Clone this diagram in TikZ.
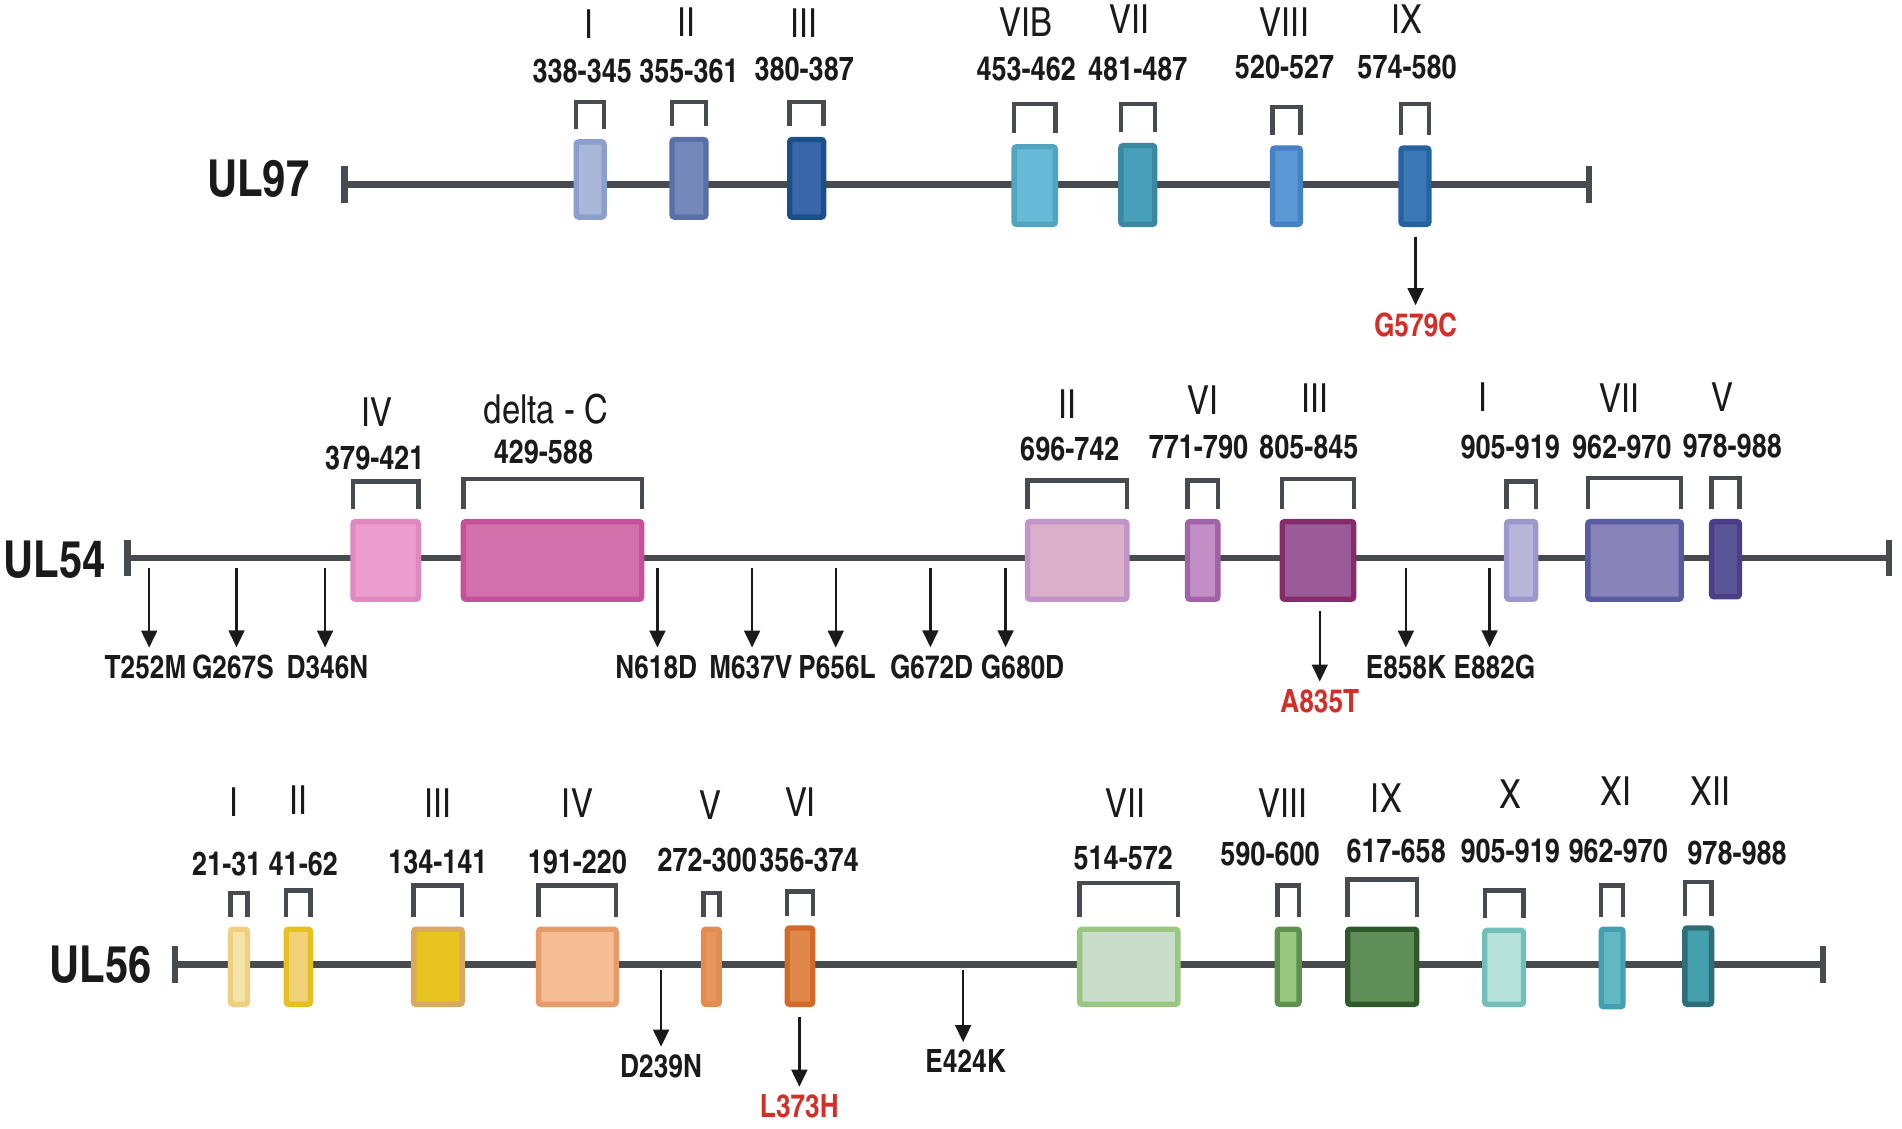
\documentclass[tikz,border=0pt]{standalone}
\usepackage{fontspec}
\setmainfont{texgyreheroscn}[Extension=.otf,UprightFont=*-regular,BoldFont=*-bold]
\usetikzlibrary{arrows.meta}
\definecolor{geneGray}{RGB}{71,74,78}
\definecolor{mutRed}{RGB}{211,47,42}
\definecolor{txtDark}{RGB}{26,26,26}
% UL97 motifs
\definecolor{sa}{HTML}{A9B8D8}\definecolor{saD}{HTML}{8AA0CC}
\definecolor{sb}{HTML}{7489BA}\definecolor{sbD}{HTML}{5870A6}
\definecolor{sc}{HTML}{3A66AC}\definecolor{scD}{HTML}{1A5088}
\definecolor{sd}{HTML}{67B9D8}\definecolor{sdD}{HTML}{52A4C0}
\definecolor{se}{HTML}{489FBA}\definecolor{seD}{HTML}{3A88A2}
\definecolor{sf}{HTML}{5B98D6}\definecolor{sfD}{HTML}{4681C4}
\definecolor{sg}{HTML}{3B78B8}\definecolor{sgD}{HTML}{2562A0}
% UL54 motifs
\definecolor{pa}{HTML}{EC9CCD}\definecolor{paD}{HTML}{E088C0}
\definecolor{pb}{HTML}{D170AA}\definecolor{pbD}{HTML}{C6509A}
\definecolor{pc}{HTML}{D9AFCA}\definecolor{pcD}{HTML}{C395C6}
\definecolor{pd}{HTML}{C28EC6}\definecolor{pdD}{HTML}{A162A8}
\definecolor{pe}{HTML}{9B5A98}\definecolor{peD}{HTML}{872C6A}
\definecolor{pf}{HTML}{B8B4DA}\definecolor{pfD}{HTML}{9D98CC}
\definecolor{pg}{HTML}{8884BA}\definecolor{pgD}{HTML}{5A5CA2}
\definecolor{ph}{HTML}{5B5598}\definecolor{phD}{HTML}{4C3D88}
% UL56 motifs
\definecolor{ya}{HTML}{F4E4A8}\definecolor{yaD}{HTML}{F0D080}
\definecolor{yb}{HTML}{F0D078}\definecolor{ybD}{HTML}{E6C020}
\definecolor{yc}{HTML}{E8C420}\definecolor{ycD}{HTML}{D9A862}
\definecolor{yd}{HTML}{F6BE96}\definecolor{ydD}{HTML}{E89A68}
\definecolor{ye}{HTML}{E8945A}\definecolor{yeD}{HTML}{E38C52}
\definecolor{yf}{HTML}{E0884C}\definecolor{yfD}{HTML}{D06A26}
\definecolor{yg}{HTML}{CADDCA}\definecolor{ygD}{HTML}{98C880}
\definecolor{yh}{HTML}{98C880}\definecolor{yhD}{HTML}{5E9050}
\definecolor{yi}{HTML}{608E58}\definecolor{yiD}{HTML}{2E5A2A}
\definecolor{yj}{HTML}{B8E2DC}\definecolor{yjD}{HTML}{72BEB8}
\definecolor{yk}{HTML}{62B8C0}\definecolor{ykD}{HTML}{42A0B0}
\definecolor{yl}{HTML}{44A0AC}\definecolor{ylD}{HTML}{2E6E78}
\tikzset{
  geneline/.style={line width=2.6pt, draw=geneGray},
  bracket/.style={line width=1.8pt, draw=geneGray},
  motif/.style={line width=2.2pt, rounded corners=1pt},
  mutarrow/.style={line width=1pt, draw=txtDark, shorten >=3pt, -{Triangle[length=7pt,width=6.5pt]}},
  numlabel/.style={font=\bfseries\fontsize{13.6}{13.6}\selectfont, text=txtDark, inner sep=0pt},
  romlabel/.style={font=\fontsize{16.5}{16.5}\selectfont, text=txtDark, inner sep=0pt},
  genelabel/.style={font=\bfseries\fontsize{21}{21}\selectfont, text=txtDark, inner sep=0pt},
  mutlabel/.style={font=\bfseries\fontsize{13.2}{13.2}\selectfont, text=txtDark, inner sep=0pt},
}
\begin{document}
\begin{tikzpicture}[x=0.5pt,y=-0.5pt]
\useasboundingbox (0,0) rectangle (1568,930);

% ---- UL97 ----
\node[genelabel] (ul97) at (213,147) {UL97};
\coordinate (ul97-l) at (284,152);
\coordinate (ul97-r) at (1310,152);
\draw[geneline] (ul97-l) -- (ul97-r);
\draw[geneline] (ul97-l) ++(0,-15) -- ++(0,30);
\draw[geneline] (ul97-r) ++(0,-15) -- ++(0,30);
\foreach \xl/\xr/\yt/\yb/\bt/\f/\d in {473/500/115/181/84/sa/saD, 552/584/113/181/84/sb/sbD,
    649/681/113/181/84/sc/scD, 834/872/119/187/86/sd/sdD, 922/954/118/187/86/se/seD,
    1047/1074/120/187/88/sf/sfD, 1153/1180/120/187/86/sg/sgD}{
  \filldraw[motif, fill=\f, draw=\d] (\xl+2,\yt+2) rectangle (\xr-2,\yb-2);
  \draw[bracket] (\xl+2,\yt-9) |- (\xr-2,\bt) -- (\xr-2,\yt-9);
}
\foreach \x/\y/\t [count=\i] in {486/20/I, 566/18/II, 663/19/III, 846/18/VIB, 931/16/VII,
    1059/18/VIII, 1160/16/IX}
  \node[romlabel] (r97-\i) at (\x,\y) {\t};
\foreach \x/\y/\t [count=\i] in {480/59/338-345, 568/59/355-361, 663/57/380-387, 846/57/453-462,
    938/57/481-487, 1059/55/520-527, 1160/55/574-580}
  \node[numlabel] (n97-\i) at (\x,\y) {\t};

% ---- UL54 ----
\node[genelabel] (ul54) at (45,461) {UL54};
\coordinate (ul54-l) at (105,460);
\coordinate (ul54-r) at (1557,460);
\draw[geneline] (ul54-l) -- (ul54-r);
\draw[geneline] (ul54-l) ++(0,-15) -- ++(0,30);
\draw[geneline] (ul54-r) ++(0,-15) -- ++(0,30);
\foreach \xl/\xr/\yt/\yb/\bt/\f/\d in {289/347/428/496/397/pa/paD, 380/531/428/496/395/pb/pbD,
    845/931/428/496/396/pc/pcD, 977/1006/428/496/396/pd/pdD, 1055/1118/428/496/395/pe/peD,
    1240/1268/428/496/397/pf/pfD, 1307/1388/428/496/394/pg/pgD, 1409/1436/428/494/394/ph/phD}{
  \filldraw[motif, fill=\f, draw=\d] (\xl+2,\yt+2) rectangle (\xr-2,\yb-2);
  \draw[bracket] (\xl+2,\yt-8) |- (\xr-2,\bt) -- (\xr-2,\yt-8);
}
\foreach \x/\y/\t [count=\i] in {311/340/IV, 450/337/delta - C, 880/333/II, 992/330/VI,
    1084/328/III, 1223/327/I, 1335/328/VII, 1420/327/V}
  \node[romlabel] (r54-\i) at (\x,\y) {\t};
\foreach \x/\y/\t [count=\i] in {309/378/379-421, 448/373/429-588, 882/370/696-742, 988/369/771-790,
    1079/369/805-845, 1245/369/905-919, 1337/369/962-970, 1428/368/978-988}
  \node[numlabel] (n54-\i) at (\x,\y) {\t};

% ---- UL56 ----
\node[genelabel] (ul56) at (83,795) {UL56};
\coordinate (ul56-l) at (144,795);
\coordinate (ul56-r) at (1503,795);
\draw[geneline] (ul56-l) -- (ul56-r);
\draw[geneline] (ul56-l) ++(0,-15) -- ++(0,30);
\draw[geneline] (ul56-r) ++(0,-15) -- ++(0,30);
\foreach \xl/\xr/\yt/\yb/\bt/\f/\d in {188/206/764/830/736/ya/yaD, 234/258/764/830/734/yb/ybD,
    339/383/764/830/730/yc/ycD, 442/510/764/830/730/yd/ydD, 578/595/764/830/736/ye/yeD,
    647/672/763/830/735/yf/yfD, 888/973/764/830/728/yg/ygD, 1051/1073/764/830/730/yh/yhD,
    1109/1170/764/830/725/yi/yiD, 1222/1258/765/830/734/yj/yjD, 1318/1340/764/832/730/yk/ykD,
    1387/1413/763/830/727/yl/ylD}{
  \filldraw[motif, fill=\f, draw=\d] (\xl+2,\yt+2) rectangle (\xr-2,\yb-2);
  \draw[bracket] (\xl+2,\yt-8) |- (\xr-2,\bt) -- (\xr-2,\yt-8);
}
\foreach \x/\y/\t [count=\i] in {193/661/I, 246/660/II, 361/662/III, 476/662/IV, 586/664/V,
    660/661/VI, 928/662/VII, 1058/662/VIII, 1143/658/IX, 1245/655/X, 1332/652/XI, 1410/652/XII}
  \node[romlabel] (r56-\i) at (\x,\y) {\t};
\foreach \x/\y/\t [count=\i] in {187/712/21-31, 250/712/41-62, 361/711/134-141, 476/711/191-220,
    583/709/272-300, 667/709/356-374, 926/707/514-572, 1047/704/590-600, 1151/702/617-658,
    1245/702/905-919, 1334/702/962-970, 1432/703/978-988}
  \node[numlabel] (n56-\i) at (\x,\y) {\t};

% ---- mutations ----
\foreach \ax/\ay/\lx/\ly/\t/\c in {1167/195/1167/268/G579C/mutRed,
    123/468/120/550/T252M/txtDark, 195/468/192/550/G267S/txtDark, 268/468/270/550/D346N/txtDark,
    542/468/541/550/N618D/txtDark, 620/468/619/550/M637V/txtDark, 689/468/690/550/P656L/txtDark,
    767/468/768/550/G672D/txtDark, 829/468/843/550/G680D/txtDark, 1088/504/1088/578/A835T/mutRed,
    1159/468/1159/550/E858K/txtDark, 1228/468/1232/550/E882G/txtDark,
    545/800/545/879/D239N/txtDark, 659/838/659/912/L373H/mutRed, 794/800/796/875/E424K/txtDark}{
  \coordinate (a-\t) at (\ax,\ay);
  \node[mutlabel, text=\c] (\t) at (\lx,\ly) {\t};
  \draw[mutarrow] (a-\t) -- (a-\t |- \t.north);
}
\end{tikzpicture}
\end{document}
